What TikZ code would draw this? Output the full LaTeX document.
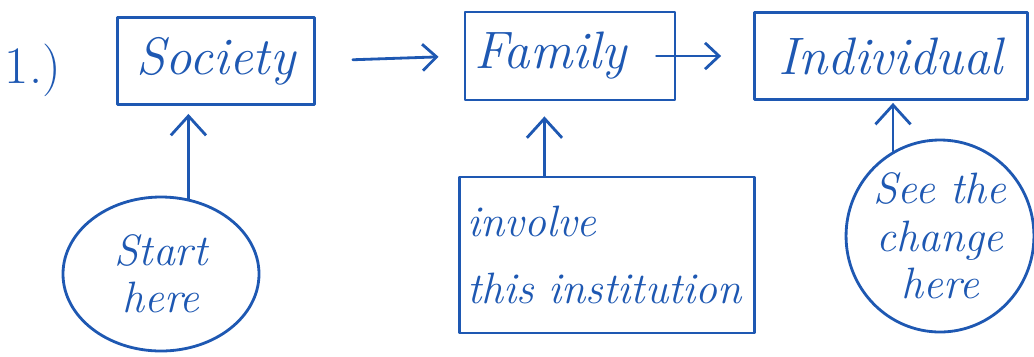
\documentclass[tikz,border=0pt]{standalone}
\usepackage{fontspec}
\usetikzlibrary{arrows.meta,shapes.geometric,calc}
\newlength\pxu
\setlength\pxu{0.02cm}
\definecolor{ink}{RGB}{30,88,178}
\tikzset{
  ink line/.style={draw=ink, line width=1.6pt, line cap=round, line join=round},
  box/.style={ink line, rectangle, inner sep=0pt, text=ink,
    font=\fontsize{30}{32}\selectfont\itshape},
  bubble/.style={ink line, ellipse, inner sep=0pt, text=ink, align=center,
    font=\fontsize{25}{27}\selectfont\itshape},
  flow/.style={ink line, -{Straight Barb[length=8pt,width=15pt]}},
  rise/.style={ink line, -{Straight Barb[length=11pt,width=20pt]}},
}
\begin{document}
\begin{tikzpicture}[x=\pxu, y=-\pxu]
\useasboundingbox (0,0) rectangle (1034,356);

% item number
\node[text=ink, font=\fontsize{30}{32}\selectfont] (num) at (33,70) {1.)};

% main chain
\node[box, minimum width=197\pxu, minimum height=87\pxu] (soc) at (216,61) {Society};
\node[box, minimum width=210\pxu, minimum height=88\pxu, text width=192\pxu, align=left] (fam) at (570,56) {Family};
\node[box, minimum width=273\pxu, minimum height=87\pxu] (ind) at (891,56) {Individual};

% notes underneath
\node[bubble, minimum width=196\pxu, minimum height=154\pxu] (start) at (161,274) {Start\\here};
\node[box, minimum width=295\pxu, minimum height=156\pxu, text width=280\pxu, align=left,
  font=\fontsize{25}{38}\selectfont\itshape] (inst) at (607,255) {involve\\this institution};
\node[bubble, minimum width=186\pxu, minimum height=192\pxu] (chg) at (940,236) {See the\\change\\here};

% connectors along the chain
\draw[flow, shorten <=37\pxu, shorten >=25\pxu] (soc.east) -- (fam.west);
\draw[flow, shorten <=-20\pxu, shorten >=32\pxu] (fam.east) -- (ind.west);

% connectors from the notes
\coordinate (instTop) at ($(inst.north west)!0.29!(inst.north east)$);
\draw[rise, shorten >=8\pxu] (start.70) -- (start.70 |- soc.south);
\draw[rise, shorten >=15\pxu] (instTop) -- (instTop |- fam.south);
\draw[rise, shorten >=2\pxu] (chg.119) -- (chg.119 |- ind.south);
\end{tikzpicture}
\end{document}
